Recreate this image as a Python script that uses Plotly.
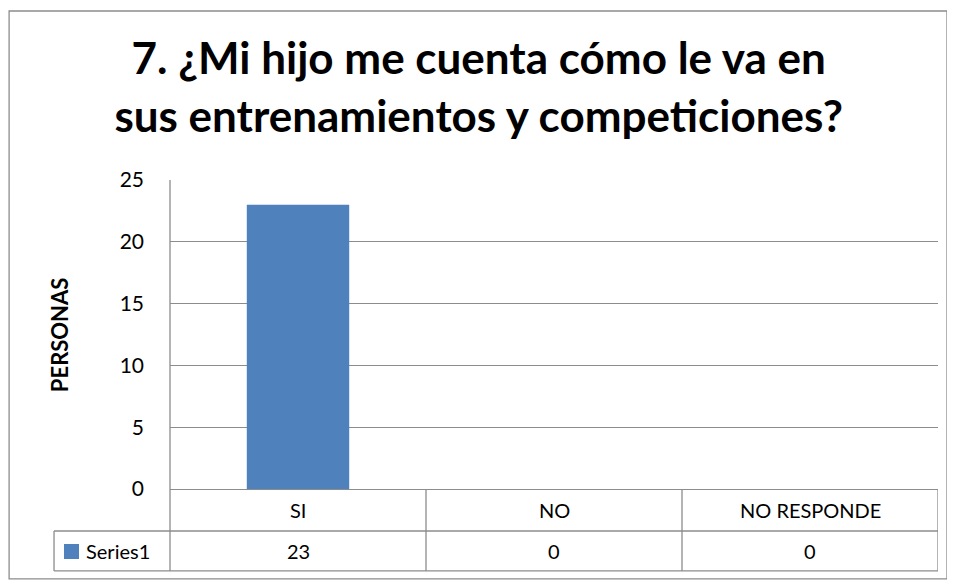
import plotly.graph_objects as go

# datos de la encuesta
categorias = ["SI", "NO", "NO RESPONDE"]
personas = [23, 0, 0]
serie = "Series1"
titulo = "<b>7. ¿Mi hijo me cuenta cómo le va en<br>sus entrenamientos y competiciones?</b>"
eje_y = "PERSONAS"
y_ticks = [0, 5, 10, 15, 20, 25]

AZUL = "#4F81BD"
GRIS = "#8C8C8C"
FUENTE = "Lato, Carlito, Calibri, sans-serif"

fig = go.Figure()
fig.add_trace(go.Bar(
    x=list(range(len(categorias))),
    y=personas,
    name=serie,
    marker=dict(color=AZUL, line=dict(width=0)),
    width=0.4,
))

# filas de la tabla de datos (coordenadas del papel bajo el área de trazado)
fila1 = -0.136
fila2 = -0.265
izq = -0.151

linea = dict(color=GRIS, width=1.3)
shapes = []
# líneas horizontales de la tabla
shapes.append(dict(type="line", xref="paper", yref="paper", x0=izq, x1=1, y0=fila1, y1=fila1, line=linea))
shapes.append(dict(type="line", xref="paper", yref="paper", x0=izq, x1=1, y0=fila2, y1=fila2, line=linea))
# borde izquierdo de la celda de la serie
shapes.append(dict(type="line", xref="paper", yref="paper", x0=izq, x1=izq, y0=fila1, y1=fila2, line=linea))
# eje y prolongado hasta el fondo de la tabla
shapes.append(dict(type="line", xref="paper", yref="paper", x0=0, x1=0, y0=1, y1=fila2, line=linea))
# separadores de columnas
for i in range(len(categorias)):
    xb = i + 0.5
    shapes.append(dict(type="line", xref="x", yref="paper", x0=xb, x1=xb, y0=0, y1=fila2, line=linea))
# clave de la leyenda
shapes.append(dict(type="rect", xref="paper", yref="paper", x0=-0.138, x1=-0.1185,
                   y0=-0.178, y1=-0.2265, fillcolor=AZUL, line=dict(width=0)))
# borde del gráfico
shapes.append(dict(type="rect", xref="paper", yref="paper", x0=-0.2095, x1=1.0117,
                   y0=-0.291, y1=1.547, line=linea, layer="below"))

celda = dict(showarrow=False, yanchor="middle", font=dict(size=20, color="black"))
annotations = []
for i, (c, v) in enumerate(zip(categorias, personas)):
    annotations.append(dict(x=i, y=(0 + fila1) / 2, xref="x", yref="paper", text=c,
                            xanchor="center", **celda))
    annotations.append(dict(x=i, y=(fila1 + fila2) / 2, xref="x", yref="paper", text=str(v),
                            xanchor="center", **celda))
annotations.append(dict(x=-0.112, y=(fila1 + fila2) / 2, xref="paper", yref="paper", text=serie,
                        xanchor="left", **celda))
# título del eje y
annotations.append(dict(x=-0.1445, y=0.498, xref="paper", yref="paper", text="<b>" + eje_y + "</b>",
                        textangle=-90, showarrow=False, xanchor="center", yanchor="middle",
                        font=dict(size=22, color="black")))

fig.update_layout(
    width=947, height=572,
    margin=dict(l=162, r=17, t=172, b=91),
    paper_bgcolor="white", plot_bgcolor="white",
    font=dict(family=FUENTE, color="black"),
    showlegend=False,
    title=dict(text=titulo, x=0.497, xanchor="center", y=0.884, yanchor="middle",
               font=dict(size=44, color="black", family=FUENTE)),
    shapes=shapes,
    annotations=annotations,
)
fig.update_xaxes(range=[-0.5, 2.5], showticklabels=False, showgrid=False,
                 showline=True, linecolor=GRIS, linewidth=1.3, zeroline=False, fixedrange=True)
fig.update_yaxes(range=[0, 25], tickvals=y_ticks, showgrid=True, gridcolor=GRIS, gridwidth=1.3,
                 zeroline=False, showline=False, ticks="", ticklabelstandoff=25,
                 tickfont=dict(size=21, color="black"))

fig.write_html("out.html")
